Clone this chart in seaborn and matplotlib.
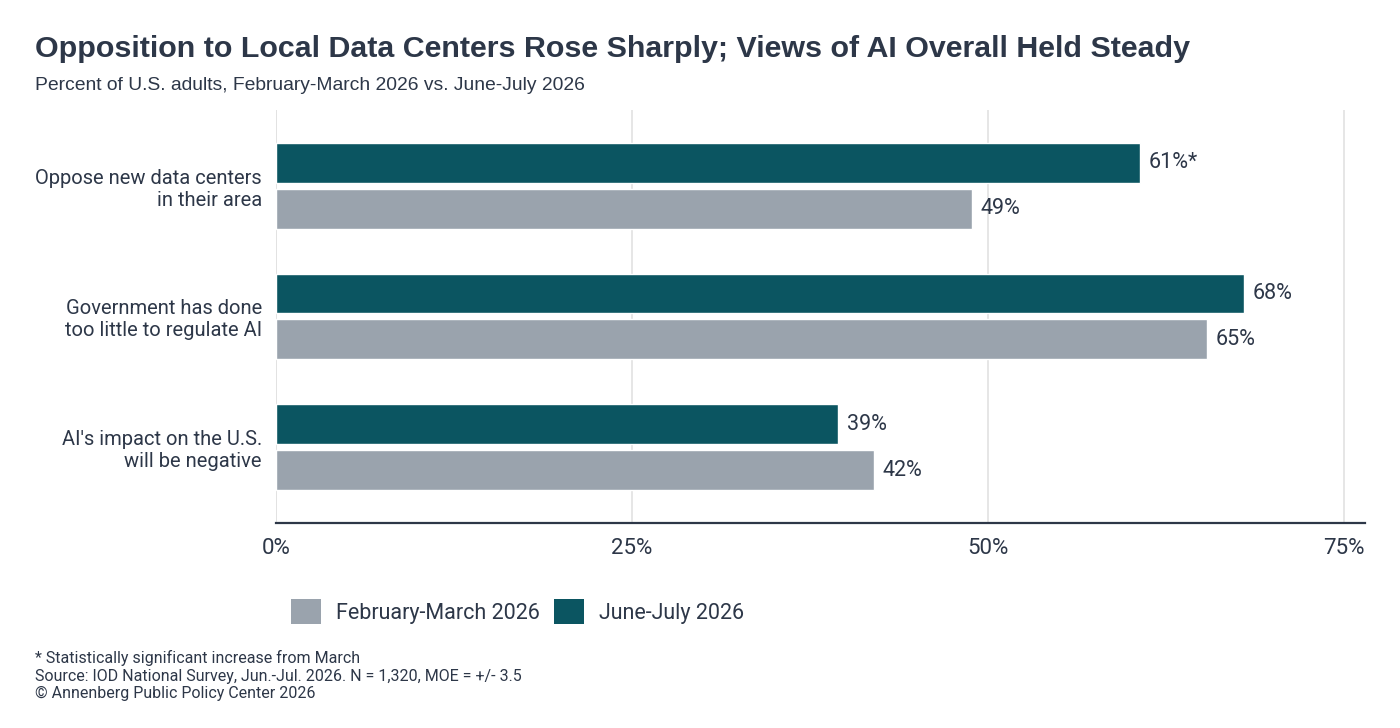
import matplotlib
matplotlib.use("Agg")
import matplotlib.pyplot as plt
import seaborn as sns
import pandas as pd
from matplotlib.patches import Patch

categories = ["Oppose new data centers\nin their area",
              "Government has done\ntoo little to regulate AI",
              "AI's impact on the U.S.\nwill be negative"]
series_names = ["June-July 2026", "February-March 2026"]
june_july = [60.7, 68.0, 39.5]
feb_march = [48.9, 65.4, 42.0]
value_labels_jj = ["61%*", "68%", "39%"]
value_labels_fm = ["49%", "65%", "42%"]
x_ticks = [0, 25, 50, 75]
x_tick_labels = ["0%", "25%", "50%", "75%"]

DARK = "#0b5561"
GRAY = "#9aa3ad"
TEXT = "#2d3748"

df = pd.DataFrame({
    "category": categories * 2,
    "period": [series_names[0]] * 3 + [series_names[1]] * 3,
    "value": june_july + feb_march,
})

sns.set_theme(style="white")
plt.rcParams["font.family"] = ["Roboto", "DejaVu Sans"]

fig = plt.figure(figsize=(14, 7.28), dpi=100)
ax = fig.add_axes([0.197, 0.2816, 0.778, 0.5674])

sns.barplot(data=df, y="category", x="value", hue="period",
            hue_order=series_names, order=categories,
            palette={series_names[0]: DARK, series_names[1]: GRAY},
            orient="h", width=0.70, gap=0.13, legend=False, ax=ax,
            saturation=1)

ax.set_xlim(0, 76.5)
ax.set_ylim(2.58, -0.58)
ax.set_xticks(x_ticks)
ax.set_xticklabels(x_tick_labels, fontsize=16, color=TEXT)
ax.tick_params(axis="x", length=0, pad=11)
ax.tick_params(axis="y", length=0, pad=10)
for lbl in ax.get_yticklabels():
    lbl.set_fontsize(14.5)
    lbl.set_color(TEXT)
    lbl.set_multialignment("right")
ax.set_xlabel("")
ax.set_ylabel("")
ax.grid(axis="x", color="#e2e2e2", linewidth=1.2)
ax.set_axisbelow(True)
for s in ["top", "right", "left"]:
    ax.spines[s].set_visible(False)
ax.spines["bottom"].set_color(TEXT)
ax.spines["bottom"].set_linewidth(1.6)
ax.axvline(0, color="#e2e2e2", linewidth=1.2, zorder=0)

labels_by_series = [value_labels_jj, value_labels_fm]
for cont, labs in zip(ax.containers, labels_by_series):
    ax.bar_label(cont, labels=labs, padding=6, fontsize=15.5, color=TEXT)

fig.text(0.025, 0.933, "Opposition to Local Data Centers Rose Sharply; Views of AI Overall Held Steady",
         fontsize=21.9, fontweight="bold", color=TEXT, family=["Liberation Sans", "DejaVu Sans"],
         va="center", ha="left")
fig.text(0.025, 0.883, "Percent of U.S. adults, February-March 2026 vs. June-July 2026",
         fontsize=13.9, color=TEXT, family=["Liberation Sans", "DejaVu Sans"],
         va="center", ha="left")

handles = [Patch(facecolor=GRAY, edgecolor="none", label=series_names[1]),
           Patch(facecolor=DARK, edgecolor="none", label=series_names[0])]
leg = fig.legend(handles=handles, loc="center left", bbox_to_anchor=(0.194, 0.160),
                 ncol=2, frameon=False, handlelength=1.4, handleheight=1.45,
                 handletextpad=0.7, columnspacing=0.63,
                 prop={"family": ["Roboto", "DejaVu Sans"], "size": 15.5})
for t in leg.get_texts():
    t.set_color(TEXT)

foot = ("* Statistically significant increase from March\n"
        "Source: IOD National Survey, Jun.-Jul. 2026. N = 1,320, MOE = +/- 3.5\n"
        "\u00a9 Annenberg Public Policy Center 2026")
fig.text(0.025, 0.037, foot, fontsize=11.5, color=TEXT, va="bottom", ha="left",
         linespacing=1.2, family=["Roboto", "DejaVu Sans"])

fig.savefig("out.png", dpi=100, facecolor="white")
